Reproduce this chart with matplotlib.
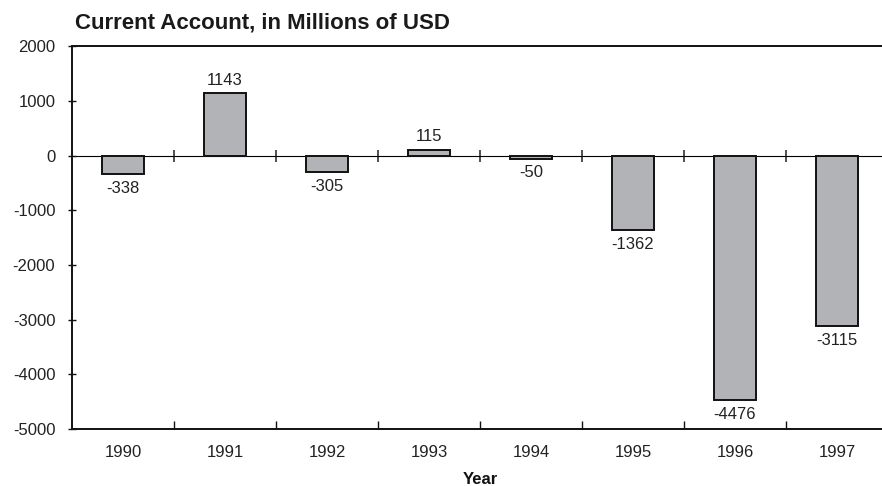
import matplotlib
matplotlib.use("Agg")
import matplotlib.pyplot as plt
import numpy as np

years = ["1990", "1991", "1992", "1993", "1994", "1995", "1996", "1997"]
values = [-338, 1143, -305, 115, -50, -1362, -4476, -3115]
y_ticks = [2000, 1000, 0, -1000, -2000, -3000, -4000, -5000]

plt.rcParams['font.family'] = ['Liberation Sans', 'DejaVu Sans']

W, H = 882, 486
fig = plt.figure(figsize=(W / 100, H / 100), dpi=100)
left, right = 72, 888
top, bottom = 46.5, 429
ax = fig.add_axes([left / W, 1 - bottom / H, (right - left) / W, (bottom - top) / H])

x = np.arange(len(years))
ax.bar(x, values, width=0.41, color="#b2b3b7", edgecolor="#111111", linewidth=1.4, zorder=3)

ax.set_xlim(-0.5, len(years) - 0.5)
ax.set_ylim(y_ticks[-1], y_ticks[0])

for xi, v in zip(x, values):
    if v >= 0:
        ax.annotate(str(v), (xi, v), xytext=(0, 4), textcoords="offset points",
                    ha="center", va="bottom", fontsize=12, color="#222222")
    else:
        ax.annotate(str(v), (xi, v), xytext=(0, -5), textcoords="offset points",
                    ha="center", va="top", fontsize=12, color="#222222")

# spines
for s in ["top", "left", "bottom"]:
    ax.spines[s].set_color("#111111")
    ax.spines[s].set_linewidth(1.4)
ax.spines["right"].set_visible(False)

# y axis
ax.set_yticks(y_ticks)
ax.set_yticklabels([str(t) for t in y_ticks])
ax.tick_params(axis="y", direction="inout", length=6, width=1, color="#111111",
               labelsize=12, pad=9, labelcolor="#222222")

# x axis: ticks at boundaries, labels at centers
boundaries = np.arange(len(years) - 1) + 0.5
ax.set_xticks(boundaries)
ax.set_xticklabels([])
ax.set_xticks(x, minor=True)
ax.set_xticklabels(years, minor=True)
ax.tick_params(axis="x", which="major", direction="in", length=6, width=1, color="#111111")
ax.tick_params(axis="x", which="minor", length=0, labelsize=12, pad=11.5, labelcolor="#222222")

# zero line with ticks
zero_pos = (0 - y_ticks[-1]) / (y_ticks[0] - y_ticks[-1])
sec = ax.secondary_xaxis(zero_pos)
sec.set_xticks(boundaries)
sec.set_xticklabels([])
sec.tick_params(direction="inout", length=9, width=1.2, color="#333333")
sec.spines["bottom"].set_color("#707070")
sec.spines["bottom"].set_linewidth(1.4)
sec.spines["bottom"].set_zorder(4)

ax.set_xlabel("Year", fontsize=12, fontweight="bold", labelpad=9, color="#111111")
fig.text(75 / W, 1 - 28 / H, "Current Account, in Millions of USD", fontsize=16,
         fontweight="bold", ha="left", va="baseline", color="#1a1a1a")

fig.savefig("out.png", dpi=100)
